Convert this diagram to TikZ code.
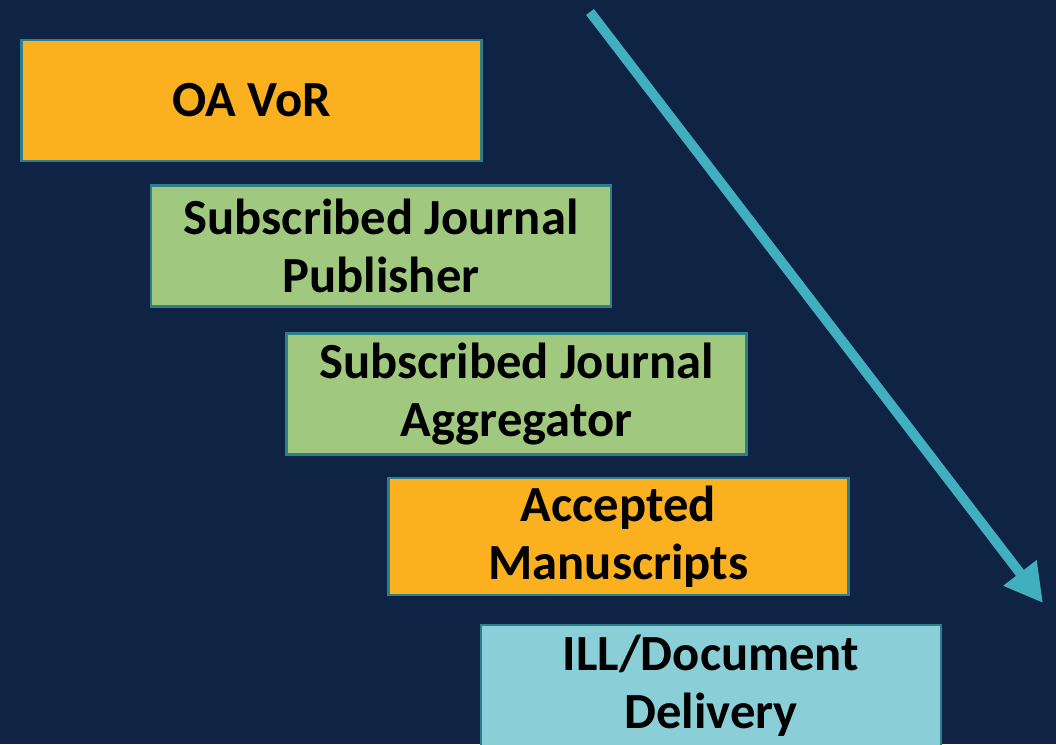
\documentclass[tikz,border=0pt]{standalone}
\usepackage{fontspec}
\setmainfont{Carlito}
\usetikzlibrary{arrows.meta}

\definecolor{navy}{HTML}{0F2344}
\definecolor{oaorange}{HTML}{FBB01F}
\definecolor{subgreen}{HTML}{A0C87E}
\definecolor{illblue}{HTML}{8ACFD8}
\definecolor{edgeteal}{HTML}{2E7F8A}
\definecolor{arrowteal}{HTML}{42AFBF}

\tikzset{
  stepbox/.style={draw=edgeteal, line width=2pt, rectangle, minimum width=460*0.025cm,
    minimum height=121*0.025cm, align=center,
    font=\bfseries\fontsize{36}{41}\selectfont, text=black, inner sep=0pt},
}

\begin{document}
\begin{tikzpicture}[x=0.025cm, y=-0.025cm]
    \fill[navy] (0,0) rectangle (1056,744);
    \useasboundingbox (0,0) rectangle (1056,744);
    \clip (0,0) rectangle (1056,744);

    \node[stepbox, fill=oaorange] (vor) at (251.5,100.5) {OA VoR};
    \node[stepbox, fill=subgreen] (pub) at (381,246) {Subscribed Journal\\Publisher};
    \node[stepbox, fill=subgreen] (agg) at (516.5,394) {Subscribed Journal\\Aggregator};
    \node[stepbox, fill=oaorange, minimum height=117*0.025cm] (am) at (618.5,536.5) {Accepted\\Manuscripts};
    \node[stepbox, fill=illblue] (ill) at (711,685.5) {ILL/Document\\Delivery};

    \coordinate (top) at (590,12);
    \coordinate (tip) at (1043,603);
    \draw[-{Triangle[length=27pt, width=28pt]}, line width=7pt, color=arrowteal] (top) -- (tip);
\end{tikzpicture}
\end{document}
